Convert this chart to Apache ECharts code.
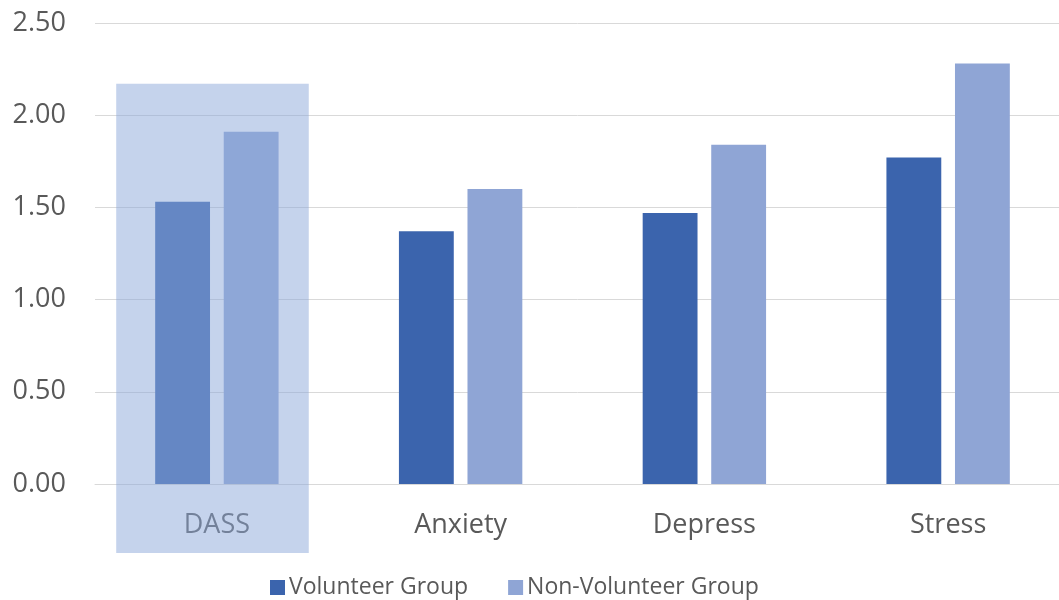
<!DOCTYPE html>
<html>
<head>
<meta charset="utf-8">
<script src="https://cdn.jsdelivr.net/npm/echarts@6/dist/echarts.min.js"></script>
<style>
  html, body { margin: 0; padding: 0; background: #ffffff; }
  #chart { width: 1059px; height: 600px; }
</style>
</head>
<body>
<div id="chart"></div>
<script>
// Mean DASS scores per subscale, volunteers vs non-volunteers
const categories = ['DASS', 'Anxiety', 'Depress', 'Stress'];
const volunteerGroup = [1.53, 1.37, 1.47, 1.77];
const nonVolunteerGroup = [1.91, 1.60, 1.84, 2.28];
const seriesNames = ['Volunteer Group', 'Non-Volunteer Group'];

const FONT = '"Open Sans", "Segoe UI", sans-serif';
const TEXT = '#595959';
const GRID = '#d9d9d9';

const chart = echarts.init(document.getElementById('chart'), null, { renderer: 'canvas' });

chart.setOption({
  animation: false,
  backgroundColor: '#ffffff',
  // plot runs slightly past the right edge of the canvas
  grid: { left: 95, width: 975, top: 23, height: 461, outerBoundsMode: 'none', containLabel: false },
  legend: {
    data: seriesNames,
    left: 265,
    top: 569,
    icon: 'rect',
    itemWidth: 15,
    itemHeight: 15,
    itemGap: 40,
    textStyle: { fontFamily: FONT, fontSize: 23, color: TEXT, lineHeight: 27, padding: [0, 0, 0, -1] }
  },
  xAxis: {
    type: 'category',
    data: categories,
    axisLine: { show: true, lineStyle: { color: GRID, width: 1 } },
    axisTick: { show: false },
    axisLabel: { fontFamily: FONT, fontSize: 27, color: TEXT, margin: 27, lineHeight: 28 }
  },
  yAxis: {
    type: 'value',
    min: 0,
    max: 2.5,
    interval: 0.5,
    axisLine: { show: false },
    axisTick: { show: false },
    splitLine: { lineStyle: { color: GRID, width: 1 } },
    axisLabel: {
      fontFamily: FONT, fontSize: 27, color: TEXT, margin: 29,
      formatter: v => v.toFixed(2)
    }
  },
  series: [
    {
      name: seriesNames[0],
      type: 'bar',
      data: volunteerGroup,
      barWidth: '22.5%',
      barGap: '25%',
      itemStyle: { color: '#3b64ad' }
    },
    {
      name: seriesNames[1],
      type: 'bar',
      data: nonVolunteerGroup,
      barWidth: '22.5%',
      itemStyle: { color: '#8fa5d5' }
    }
  ]
});

// Translucent selection band over the first category, sized from the axis scale
const c0 = chart.convertToPixel({ xAxisIndex: 0 }, categories[0]);
const c1 = chart.convertToPixel({ xAxisIndex: 0 }, categories[1]);
const band = c1 - c0;
const yTop = chart.convertToPixel({ yAxisIndex: 0 }, 2.17);
const yZero = chart.convertToPixel({ yAxisIndex: 0 }, 0);
chart.setOption({
  graphic: [{
    type: 'rect',
    z: 100,
    silent: true,
    shape: {
      x: c0 - 0.413 * band,
      y: yTop,
      width: 0.79 * band,
      height: (yZero + 69) - yTop
    },
    style: { fill: 'rgba(141,169,218,0.51)' }
  }]
});
</script>
</body>
</html>
